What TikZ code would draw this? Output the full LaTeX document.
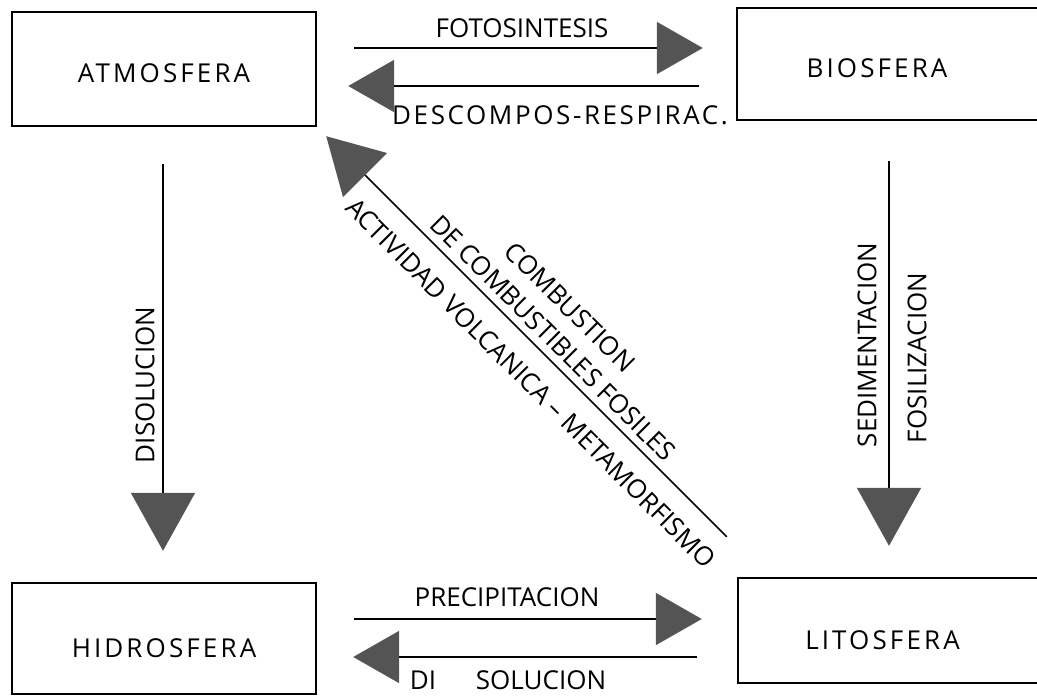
\documentclass[tikz,border=0pt]{standalone}
\usepackage{fontspec}
\setmainfont{Open Sans}
\newfontfamily\widesans[LetterSpace=12]{Open Sans}
\newfontfamily\semiwide[LetterSpace=10]{Open Sans}
\usetikzlibrary{arrows.meta}
\definecolor{headgray}{gray}{0.33}

\tikzset{
  sphere/.style={draw, line width=2.4pt, inner sep=0pt},
  spherename/.style={font=\widesans\fontsize{26}{30}\selectfont},
  lbl/.style={font=\fontsize{26}{30}\selectfont, inner sep=0pt},
  flow/.style={line width=1.8pt,
    -{Triangle[length=46pt,width=52pt,color=headgray]}},
  vflow/.style={line width=1.8pt,
    -{Triangle[length=58pt,width=64pt,color=headgray]}},
  dflow/.style={line width=1.5pt,
    -{Triangle[length=55pt,width=62pt,color=headgray]}},
}

\begin{document}
\begin{tikzpicture}[x=1pt,y=-1pt]
  \useasboundingbox (0,0) rectangle (1037,696);
  \clip (0,0) rectangle (1037,696);

  % the four spheres
  \node[sphere, minimum width=304pt, minimum height=114pt,
        label={[spherename, yshift=-4pt]center:ATMOSFERA}] (atm) at (164,69) {};
  \node[sphere, minimum width=308pt, minimum height=112pt,
        label={[spherename, xshift=-14pt, yshift=-4pt]center:BIOSFERA}] (bio) at (891,64) {};
  \node[sphere, minimum width=304pt, minimum height=111pt,
        label={[spherename, yshift=-10pt]center:HIDROSFERA}] (hid) at (164,638.5) {};
  \node[sphere, minimum width=307pt, minimum height=105pt,
        label={[spherename, xshift=-9pt, yshift=-10pt]center:LITOSFERA}] (lit) at (891.5,630.5) {};

  % atmosphere <-> biosphere
  \draw[flow] ([xshift=37pt,yshift=21pt]atm.east) -- ([xshift=-33pt,yshift=16pt]bio.west);
  \draw[flow] ([xshift=-37pt,yshift=-22pt]bio.west) -- ([xshift=31pt,yshift=-17pt]atm.east);
  \node[lbl] at (522,28) {FOTOSINTESIS};
  \node[lbl, font=\semiwide\fontsize{26}{30}\selectfont] at (560,115) {DESCOMPOS-RESPIRAC.};

  % atmosphere -> hydrosphere
  \draw[vflow] ([xshift=-1pt,yshift=-37pt]atm.south) -- ([xshift=-1pt,yshift=31pt]hid.north);
  \node[lbl, rotate=90] at (145,385) {DISOLUCION};

  % biosphere -> lithosphere
  \draw[vflow] ([xshift=-2pt,yshift=-40pt]bio.south) -- ([xshift=-2.5pt,yshift=31pt]lit.north);
  \node[lbl, rotate=90] at (867,345) {SEDIMENTACION};
  \node[lbl, rotate=90] at (917,358) {FOSILIZACION};

  % lithosphere -> atmosphere
  \draw[dflow] ([xshift=-10pt,yshift=40pt]lit.north west) -- ([xshift=9pt,yshift=-9pt]atm.south east);
  \node[lbl, rotate=-45] at (570,307) {COMBUSTION};
  \node[lbl, rotate=-45] at (553,338) {DE COMBUSTIBLES FOSILES};
  \node[lbl, rotate=-45] at (531,383) {ACTIVIDAD VOLCANICA -- METAMORFISMO};

  % hydrosphere <-> lithosphere
  \draw[flow] ([xshift=37pt,yshift=19.5pt]hid.east) -- ([xshift=-35pt,yshift=11.5pt]lit.west);
  \draw[flow] ([xshift=-40pt,yshift=-26.5pt]lit.west) -- ([xshift=36pt,yshift=-18.5pt]hid.east);
  \node[lbl] at (507,597) {PRECIPITACION};
  \node[lbl] at (423,680) {DI};
  \node[lbl] at (541,680) {SOLUCION};
\end{tikzpicture}
\end{document}
